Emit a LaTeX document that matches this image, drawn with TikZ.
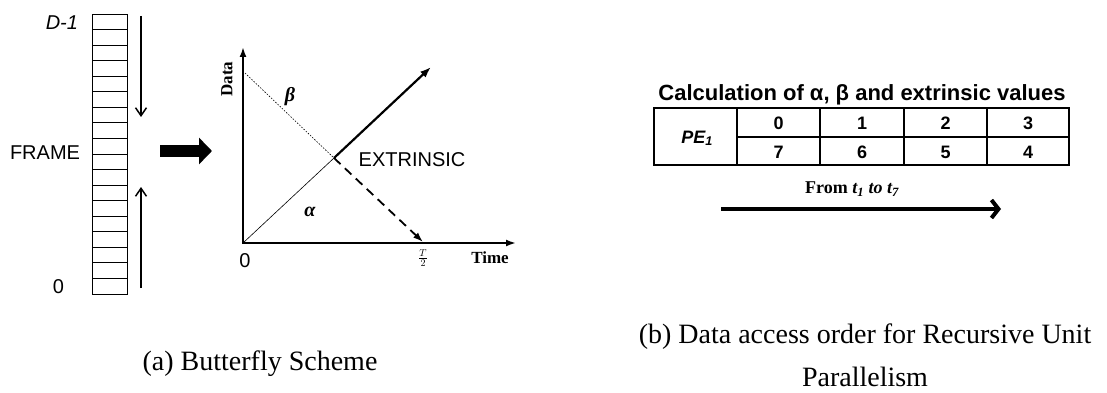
\documentclass[tikz,border=0pt]{standalone}
\usepackage{fontspec}
\setmainfont{Liberation Serif}
\newfontfamily\arial{Liberation Sans}
\usetikzlibrary{arrows.meta}
\begin{document}
\begin{tikzpicture}[x=1pt,y=-1pt,
  lbl/.style={inner sep=0pt, outer sep=0pt},
  sanslbl/.style={lbl, font=\arial\fontsize{20}{24}\selectfont},
  serifb/.style={lbl, font=\bfseries\fontsize{17}{20}\selectfont},
  cellnum/.style={lbl, font=\arial\bfseries\fontsize{18}{21}\selectfont},
  captxt/.style={lbl, font=\fontsize{28}{34}\selectfont},
  barb/.style={line width=1.5pt, -{Straight Barb[length=8pt,width=11pt]}},
  axis/.style={line width=2pt, {Latex[length=10pt,width=7pt]}-{Latex[length=10pt,width=7pt]}},
  tabline/.style={line width=1.6pt}
]
\useasboundingbox (0,0) rectangle (1107,393);

% ---------- (a) frame column ----------
\node (col) [draw, line width=0.8pt, minimum width=35pt, minimum height=280pt, inner sep=0pt, anchor=north west] at (92,14) {};
\foreach \i in {1,...,17} {
  \draw[line width=0.8pt] (col.north west) ++(0,{\i*280/18}) -- ++(35,0);
}
\node (dm1) [sanslbl, font=\arial\itshape\fontsize{20}{24}\selectfont, anchor=east] at (78,23) {D-1};
\node (frame) [sanslbl, anchor=east] at (80,153) {FRAME};
\node (zero) [sanslbl, anchor=east] at (64,287) {0};

\coordinate (dA) at (141,16);
\coordinate (dB) at (141,117);
\draw[barb] (dA) -- (dB);
\coordinate (uA) at (141,288);
\coordinate (uB) at (141,187);
\draw[barb] (uA) -- (uB);

\coordinate (tA) at (160,151);
\coordinate (tB) at (212,151);
\draw[line width=12pt, -{Triangle[length=13pt,width=26pt]}] (tA) -- (tB);

% ---------- graph ----------
\coordinate (O) at (243,243);
\coordinate (ytop) at (243,47);
\coordinate (xend) at (516,243);
\draw[axis] (ytop) -- (O) -- (xend);

\coordinate (I) at (334,158);
\coordinate (atip) at (431,67);
\coordinate (bs) at (245,73);
\coordinate (btip) at (423,242);
\draw[line width=0.6pt] (O) -- (I);
\draw[line width=2.2pt, -{Latex[length=11pt,width=8pt]}] (I) -- (atip);
\draw[line width=0.6pt, dash pattern=on 1.5pt off 1.5pt] (bs) -- (I);
\draw[line width=1.8pt, dash pattern=on 9pt off 6pt, -{Latex[length=10pt,width=7pt]}] (I) -- (btip);

\node (data) [serifb, rotate=90] at (227,79) {Data};
\node (beta) [lbl, font=\bfseries\itshape\fontsize{20}{24}\selectfont] at (290,97) {β};
\node (alpha) [lbl, font=\bfseries\itshape\fontsize{20}{24}\selectfont] at (310,212) {α};
\node (extr) [sanslbl] at (412,160) {EXTRINSIC};
\node (gzero) [sanslbl] at (245,261) {0};
\node (thalf) [lbl, font=\fontsize{14}{16}\selectfont] at (423,258) {$\frac{T}{2}$};
\node (time) [serifb] at (490,258) {Time};

% ---------- (b) table ----------
\node (title) [lbl, font=\arial\bfseries\fontsize{22}{26}\selectfont] at (862,95) {Calculation of α, β and extrinsic values};
\draw[tabline] (654,108) rectangle (1069,165);
\draw[tabline] (737,137) -- (1069,137);
\foreach \x in {737,820,904,987} { \draw[tabline] (\x,108) -- (\x,165); }
\node (pe) [lbl, font=\arial\bfseries\itshape\fontsize{18}{21}\selectfont, anchor=base] at (697,143) {PE\textsubscript{1}};
\node (c0) [cellnum] at (778.5,123) {0};
\node (c1) [cellnum] at (862,123) {1};
\node (c2) [cellnum] at (945.5,123) {2};
\node (c3) [cellnum] at (1028,123) {3};
\node (c7) [cellnum] at (778.5,152) {7};
\node (c6) [cellnum] at (862,152) {6};
\node (c5) [cellnum] at (945.5,152) {5};
\node (c4) [cellnum] at (1028,152) {4};

\node (from) [lbl, font=\bfseries\fontsize{18}{21}\selectfont] at (852,189) {From \textit{t\textsubscript{1}} \textit{to t\textsubscript{7}}};
\coordinate (fA) at (721,209);
\coordinate (fB) at (1001,209);
\draw[line width=4pt, -{Straight Barb[length=7pt,width=18pt]}] (fA) -- (fB);

% ---------- captions ----------
\node (capa) [captxt] at (260,364) {(a) Butterfly Scheme};
\node (capb1) [captxt] at (865,337) {(b) Data access order for Recursive Unit};
\node (capb2) [captxt] at (865,377) {Parallelism};
\end{tikzpicture}
\end{document}
